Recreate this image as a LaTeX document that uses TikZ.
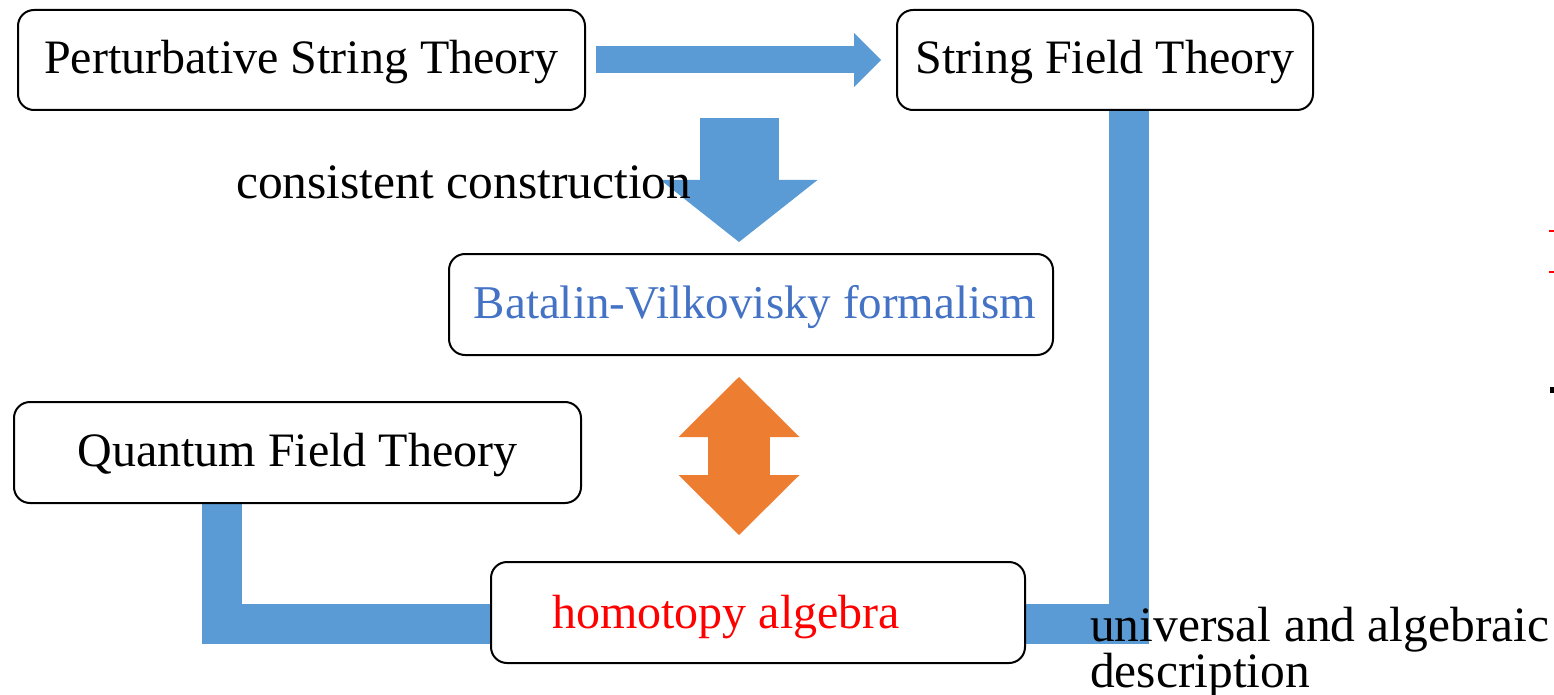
\documentclass[tikz,border=0pt]{standalone}
\usepackage{fontspec}
\setmainfont{Liberation Serif}
\usetikzlibrary{arrows.meta,backgrounds,calc}
\definecolor{barblue}{HTML}{5B9BD5}
\definecolor{arrorange}{HTML}{ED7D31}
\definecolor{bvblue}{HTML}{4472C4}
\definecolor{hared}{HTML}{FF0000}
\tikzset{
  txt/.style={font=\fontsize{48}{44}\selectfont, inner sep=0pt},
  bigtxt/.style={font=\fontsize{49.5}{44}\selectfont, inner sep=0pt},
  box/.style={txt, draw=black, line width=2pt, rounded corners=16pt,
    text height=34pt, text depth=6pt},
  bar/.style={draw=barblue, line width=40pt, line join=miter, line cap=butt},
  blockarrow/.style={line cap=butt},
}
\begin{document}
\begin{tikzpicture}[x=1pt,y=-1pt]
\useasboundingbox (0,0) rectangle (1554,695);

% boxes
\node[box, minimum width=567pt, minimum height=100pt] (pst) at (301.5,60) {Perturbative String Theory};
\node[box, minimum width=416pt, minimum height=100pt] (sft) at (1105,60) {String Field Theory};
\node[box, minimum width=604pt, minimum height=101pt, text=bvblue,
      font=\fontsize{47}{44}\selectfont] (bv) at (751,304.5) {\hspace*{8pt}Batalin-Vilkovisky formalism};
\node[box, minimum width=567pt, minimum height=101pt] (qft) at (297.5,452.5) {Quantum Field Theory};
\node[box, minimum width=534pt, minimum height=101pt] (ha) at (758,612.5) {};
\node[txt, text=hared, anchor=base] (hatext) at (726,628) {homotopy algebra};

% free labels
\node[bigtxt, anchor=base west] (cc) at (236,198) {consistent construction};
\node[bigtxt, anchor=north west, align=left] (uad) at (1090,607) {universal and algebraic\\description};

\coordinate (ccTop) at (739,118);

% connectors
\begin{scope}[on background layer]
  \draw[blockarrow, barblue, line width=27pt,
        -{Triangle[length=27pt,width=54pt,line width=0pt]}]
    ([xshift=10pt]pst.east) -- ([xshift=-15pt]sft.west);
  \draw[blockarrow, barblue, line width=79pt,
        -{Triangle[length=62pt,width=157pt,line width=0pt]}]
    (ccTop) -- ([xshift=-12pt,yshift=11pt]bv.north);
  \draw[blockarrow, arrorange, line width=62pt,
        {Triangle[length=60pt,width=121pt,line width=0pt]}-{Triangle[length=60pt,width=121pt,line width=0pt]}]
    ([xshift=-12pt,yshift=-21pt]bv.south) -- ([xshift=-19pt,yshift=26pt]ha.north);
  \draw[bar] ([xshift=-75.5pt]qft.south) |- ([yshift=-11.5pt]ha.west);
  \draw[bar] ([xshift=23.5pt]sft.south) |- ([yshift=-11pt]ha.east);
\end{scope}

% clipped marks at the right edge
\fill[hared] (1549,230) rectangle (1554,232);
\fill[hared] (1549,271) rectangle (1554,273);
\fill[black] (1550,387) rectangle (1554,393);
\end{tikzpicture}
\end{document}
